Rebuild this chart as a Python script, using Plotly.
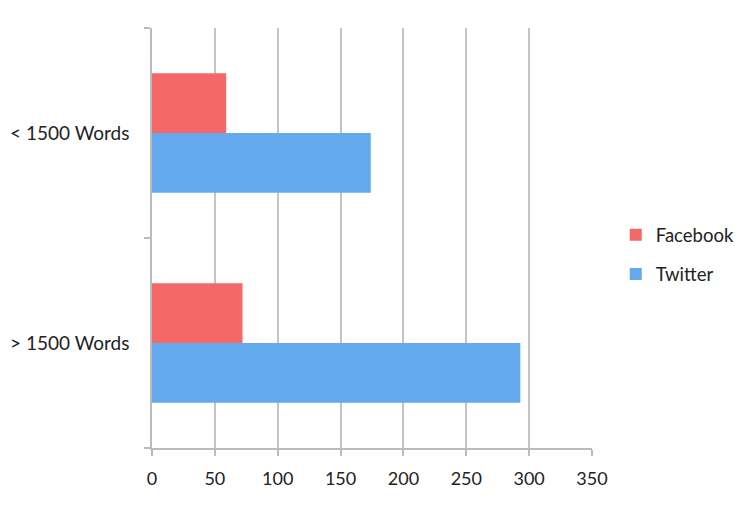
import plotly.graph_objects as go

categories = ["< 1500 Words", "> 1500 Words"]
facebook = [59, 72]
twitter = [174, 293]
x_ticks = [0, 50, 100, 150, 200, 250, 300, 350]

FONT = "Lato"
fig = go.Figure()
fig.add_trace(go.Bar(
    y=categories, x=twitter, name="Twitter", orientation="h",
    legendgroup="tw", legendrank=2,
    marker=dict(color="#64A8EE", line=dict(width=0)),
))
fig.add_trace(go.Bar(
    y=categories, x=facebook, name="Facebook", orientation="h",
    legendgroup="fb", legendrank=1,
    marker=dict(color="#F46868", line=dict(width=0)),
))

fig.update_layout(
    width=750, height=512,
    margin=dict(l=144, r=166, t=20, b=72, autoexpand=False),
    paper_bgcolor="white", plot_bgcolor="white",
    barmode="group", bargap=0.43, bargroupgap=0,
    font=dict(family=FONT, size=18, color="#222222"),
    showlegend=True,
    legend=dict(x=1.054, y=0.46, xanchor="left", yanchor="middle",
                traceorder="grouped", tracegroupgap=12, itemwidth=30,
                font=dict(size=18.5), bgcolor="rgba(0,0,0,0)"),
    xaxis=dict(range=[0, 350], tickvals=x_ticks, ticktext=[str(v) for v in x_ticks],
               showgrid=True, gridcolor="#C4C4C4", gridwidth=1.5,
               showline=True, linecolor="#BBBBBB", linewidth=1.5,
               ticks="outside", ticklen=6, tickcolor="#BBBBBB", tickwidth=1.5,
               ticklabelstandoff=8, zeroline=False, fixedrange=True,
               automargin=False, tickfont=dict(size=18)),
    yaxis=dict(categoryorder="array", categoryarray=categories[::-1],
               showgrid=False, showline=True, linecolor="#BBBBBB", linewidth=1.5,
               ticks="outside", tickson="boundaries", ticklen=6,
               tickcolor="#BBBBBB", tickwidth=1.5, ticklabelstandoff=17,
               zeroline=False, automargin=False, tickfont=dict(size=19)),
)

fig.write_html("out.html")
